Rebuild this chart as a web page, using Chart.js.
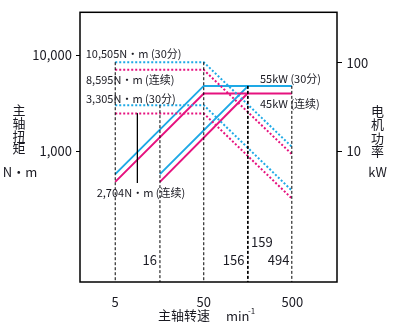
<!DOCTYPE html>
<html>
<head>
<meta charset="utf-8">
<script src="https://cdn.jsdelivr.net/npm/chart.js@4.4.1/dist/chart.umd.min.js"></script>
<style>
  html, body { margin: 0; padding: 0; background: #fff; }
  #box { position: relative; width: 394px; height: 331px; }
</style>
</head>
<body>
<div id="box"><canvas id="grafico"></canvas></div>
<script>
// ticks dos eixos
const SPEED_TICKS = [5, 50, 500];
const TORQUE_TICKS = [10000, 1000];
const POWER_TICKS = [100, 10];

// potencia (kW) - linhas cheias
const P1_SPEED = [5, 50, 494];
const P1_30MIN = [5.5, 55, 55];
const P1_CONT = [4.5, 45, 45];
const P2_SPEED_30 = [16, 159];
const P2_SPEED_CONT = [16, 156];
const P2_30MIN = [5.5, 55];
const P2_CONT = [4.5, 45];

// torque (N·m) - linhas pontilhadas
const T_SPEED = [5, 50, 494];
const T_HI_30 = [8450, 8450, 1110];
const T_HI_CONT = [7030, 7030, 930];
const T_LO_30 = [3015, 3015, 388];
const T_LO_CONT = [2470, 2470, 321];

// guias verticais e linha de chamada
const GUIDE_SPEED = [5, 16, 50, 156, 159, 494];
const LEADER_SPEED = 8.9;
const LEADER_TORQUE = [2470, 465];

const X_MIN = 2, X_MAX = 1600;
const T_MIN = 43.2, T_MAX = 28000;
const P_MIN = 0.33, P_MAX = 375;

const AZUL = '#1ea9e6';
const ROSA = '#e6127f';
const TXT = '#1a1a22';
const FONT = '"Noto Sans CJK SC", "Noto Sans", sans-serif';

function serie(xs, ys, cor, eixo, dash, larg) {
  return {
    data: xs.map((x, i) => ({ x: x, y: ys[i] })),
    yAxisID: eixo,
    borderColor: cor,
    borderWidth: larg || 2,
    borderDash: dash || [],
    pointRadius: 0,
    fill: false,
    tension: 0
  };
}

const datasets = [];
// guias tracejadas pretas
const guideTops = [T_HI_30[0], T_LO_30[0], T_HI_30[0], P1_30MIN[1], P1_30MIN[1], P1_30MIN[1]];
const guideAxis = ['yT', 'yT', 'yT', 'yP', 'yP', 'yP'];
GUIDE_SPEED.forEach((s, i) => {
  const base = guideAxis[i] === 'yT' ? T_MIN : P_MIN;
  datasets.push(serie([s, s], [guideTops[i], base], '#000', guideAxis[i], [3, 2], 1));
});
datasets.push(serie([LEADER_SPEED, LEADER_SPEED], LEADER_TORQUE, '#000', 'yT', [], 1));

// torque
datasets.push(serie(T_SPEED, T_HI_30, AZUL, 'yT', [2, 2]));
datasets.push(serie(T_SPEED, T_HI_CONT, ROSA, 'yT', [2, 2]));
datasets.push(serie(T_SPEED, T_LO_30, AZUL, 'yT', [2, 2]));
datasets.push(serie(T_SPEED, T_LO_CONT, ROSA, 'yT', [2, 2]));

// potencia
datasets.push(serie(P1_SPEED, P1_30MIN, AZUL, 'yP'));
datasets.push(serie(P1_SPEED, P1_CONT, ROSA, 'yP'));
datasets.push(serie(P2_SPEED_30, P2_30MIN, AZUL, 'yP'));
datasets.push(serie(P2_SPEED_CONT, P2_CONT, ROSA, 'yP'));

// textos fixos
const textos = [
  ['10,505N·m (30分)', 85.7, 54.3, 'left', 11],
  ['8,595N·m (连续)', 86, 80, 'left', 11],
  ['3,305N·m (30分)', 86, 98.7, 'left', 11],
  ['2,704N·m (连续)', 96.7, 192.7, 'left', 11],
  ['55kW (30分)', 260, 79, 'left', 11],
  ['45kW (连续)', 260, 104, 'left', 11],
  ['16', 157, 260, 'right', 13],
  ['156', 244.5, 260, 'right', 13],
  ['159', 251, 242.3, 'left', 13],
  ['494', 289.5, 260, 'right', 13],
  ['N·m', 20, 171.7, 'center', 13],
  ['kW', 377.5, 171.7, 'center', 13],
  ['主轴转速', 158, 315, 'left', 13],
  ['min', 226, 316, 'left', 13]
];
const tituloEsq = ['主', '轴', '扭', '矩'];
const tituloDir = ['电', '机', '功', '率'];

const moldura = {
  id: 'moldura',
  afterDraw(chart) {
    const { ctx, chartArea: a } = chart;
    ctx.save();
    ctx.strokeStyle = '#000';
    ctx.lineWidth = 1.5;
    ctx.strokeRect(a.left, a.top, a.right - a.left, a.bottom - a.top);
    ctx.fillStyle = TXT;
    ctx.textBaseline = 'middle';
    textos.forEach(t => {
      ctx.font = t[4] + 'px ' + FONT;
      ctx.textAlign = t[3];
      ctx.fillText(t[0], t[1], t[2]);
    });
    ctx.font = '8px ' + FONT;
    ctx.textAlign = 'left';
    ctx.fillText('-1', 248, 311);
    ctx.font = '13px ' + FONT;
    ctx.textAlign = 'center';
    tituloEsq.forEach((c, i) => ctx.fillText(c, 19, 110.5 + i * 12.6));
    tituloDir.forEach((c, i) => ctx.fillText(c, 377.5, 111 + i * 13.5));
    ctx.restore();
  }
};

new Chart(document.getElementById('grafico'), {
  type: 'line',
  data: { datasets: datasets },
  options: {
    responsive: true,
    maintainAspectRatio: false,
    animation: false,
    parsing: true,
    layout: { padding: { top: 12, left: 0, right: 0, bottom: 0 } },
    plugins: { legend: { display: false }, tooltip: { enabled: false } },
    scales: {
      x: {
        type: 'logarithmic',
        min: X_MIN, max: X_MAX,
        bounds: 'data',
        grid: { display: false },
        border: { display: false },
        afterBuildTicks: ax => { ax.ticks = SPEED_TICKS.map(v => ({ value: v })); },
        afterFit: ax => { ax.height = 49; },
        ticks: { color: TXT, font: { family: FONT, size: 13 }, padding: 4, maxRotation: 0, autoSkip: false,
                 callback: v => String(v) }
      },
      yT: {
        type: 'logarithmic',
        position: 'left',
        min: T_MIN, max: T_MAX,
        bounds: 'data',
        grid: { drawOnChartArea: false, tickLength: 4, color: '#000', tickColor: '#000' },
        border: { display: false },
        afterBuildTicks: ax => { ax.ticks = TORQUE_TICKS.map(v => ({ value: v })); },
        afterFit: ax => { ax.width = 80; },
        ticks: { color: TXT, font: { family: FONT, size: 13 }, padding: 4, autoSkip: false,
                 callback: v => v.toLocaleString('en-US') }
      },
      yP: {
        type: 'logarithmic',
        position: 'right',
        min: P_MIN, max: P_MAX,
        bounds: 'data',
        grid: { drawOnChartArea: false, tickLength: 5, color: '#000', tickColor: '#000' },
        border: { display: false },
        afterBuildTicks: ax => { ax.ticks = POWER_TICKS.map(v => ({ value: v })); },
        afterFit: ax => { ax.width = 57; },
        ticks: { color: TXT, font: { family: FONT, size: 13 }, padding: 4.5, autoSkip: false,
                 callback: v => String(v) }
      }
    }
  },
  plugins: [moldura]
});
</script>
</body>
</html>
